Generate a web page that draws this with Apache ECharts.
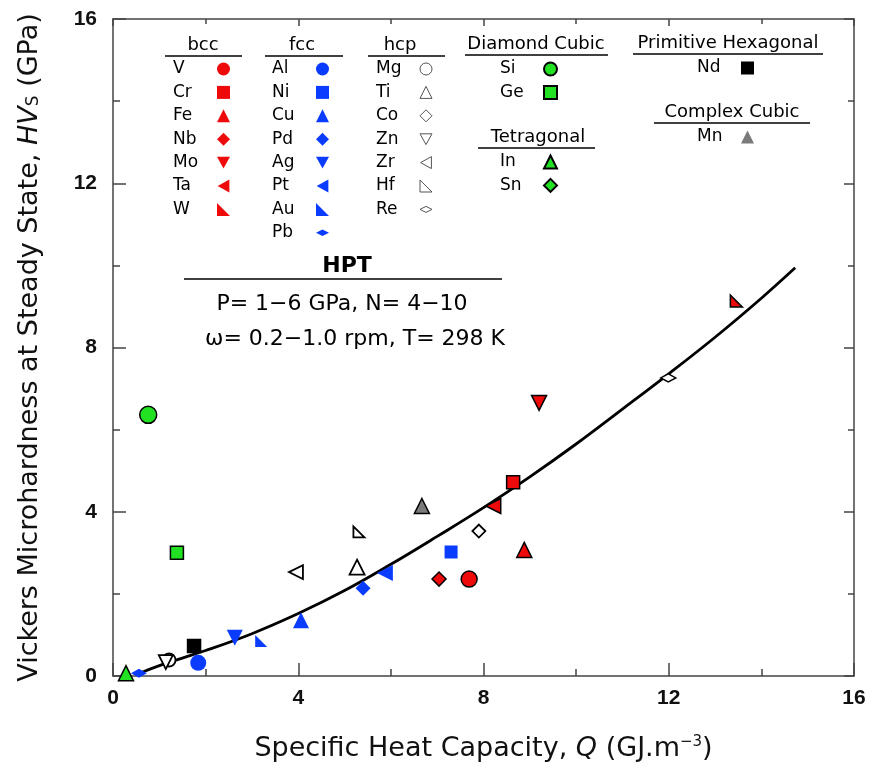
<!DOCTYPE html>
<html>
<head>
<meta charset="utf-8">
<script src="https://cdn.jsdelivr.net/npm/echarts@6/dist/echarts.min.js"></script>
<style>
html,body{margin:0;padding:0;background:#fff;}
#chart{width:874px;height:772px;}
</style>
</head>
<body>
<div id="chart"></div>
<script>
// ---- Data ----
const elementNames = ['V','Cr','Fe','Nb','Mo','Ta','W',
  'Al','Ni','Cu','Pd','Ag','Pt','Au','Pb',
  'Mg','Ti','Co','Zn','Zr','Hf','Re',
  'Si','Ge','In','Sn','Nd','Mn'];
const qValues = [7.69, 8.64, 8.88, 7.04, 9.20, 8.21, 13.46,
  1.84, 7.30, 4.06, 5.40, 2.63, 5.87, 3.20, 0.56,
  1.21, 5.27, 7.90, 1.14, 3.95, 5.31, 11.99,
  0.76, 1.38, 0.28, null, 1.75, 6.67];
const hvValues = [2.36, 4.72, 3.07, 2.36, 6.65, 4.14, 9.13,
  0.32, 3.02, 1.36, 2.14, 0.93, 2.51, 0.85, 0.07,
  0.39, 2.65, 3.53, 0.34, 2.53, 3.51, 7.26,
  6.36, 3.00, 0.07, null, 0.73, 4.14];

// fitted curve
const curveQ = [0.6, 1.2, 2.0, 3.0, 4.0, 5.0, 6.0, 7.0, 8.0, 9.0, 10.0, 11.0, 12.0, 13.0, 14.0, 14.73];
const curveHV = [0.08, 0.33, 0.62, 1.03, 1.52, 2.08, 2.72, 3.4, 4.1, 4.85, 5.65, 6.5, 7.36, 8.25, 9.2, 9.94];

const tickValues = [0, 4, 8, 12, 16];

// legend groups
const bccGroup = ['V','Cr','Fe','Nb','Mo','Ta','W'];
const fccGroup = ['Al','Ni','Cu','Pd','Ag','Pt','Au','Pb'];
const hcpGroup = ['Mg','Ti','Co','Zn','Zr','Hf','Re'];
const diamondGroup = ['Si','Ge'];
const tetragonalGroup = ['In','Sn'];
const primHexGroup = ['Nd'];
const complexCubicGroup = ['Mn'];

// ---- Styles ----
const RED = '#ee0a0a', BLUE = '#0a3cff', GREEN = '#22e022', GRAY = '#7a7a7a';
const RTRI = 'path://M0,0L0,10L10,10Z';
const DTRI = 'path://M0,0L10,0L5,9Z';
const LTRI = 'path://M0,5L9,0L9,10Z';
const FLATD = 'path://M0,4L8,0L16,4L8,8Z';
function st(symbol, size, color, border, bw) {
  return {symbol, size, color, border: border || '#000', bw: bw === undefined ? 1.5 : bw};
}
const styles = {
  V: st('circle', 16, RED), Cr: st('rect', 13, RED), Fe: st('triangle', 15, RED),
  Nb: st('diamond', 14, RED), Mo: st(DTRI, 15, RED), Ta: st(LTRI, 15, RED),
  W: st(RTRI, 12, RED),
  Al: st('circle', 16, BLUE, BLUE, 0), Ni: st('rect', 13, BLUE, BLUE, 0),
  Cu: st('triangle', 16, BLUE, BLUE, 0), Pd: st('diamond', 15, BLUE, BLUE, 0),
  Ag: st(DTRI, 16, BLUE, BLUE, 0), Pt: st(LTRI, 16, BLUE, BLUE, 0),
  Au: st(RTRI, 12, BLUE, BLUE, 0), Pb: st(FLATD, [16, 9], BLUE, BLUE, 0),
  Mg: st('circle', 13, '#fff', '#000', 1.8), Ti: st('triangle', 15, '#fff', '#000', 1.8),
  Co: st('diamond', 13, '#fff', '#000', 1.8), Zn: st(DTRI, 14, '#fff', '#000', 1.8),
  Zr: st(LTRI, 14, '#fff', '#000', 1.8), Hf: st(RTRI, 11, '#fff', '#000', 1.8),
  Re: st(FLATD, [15, 8], '#fff', '#000', 1.6),
  Si: st('circle', 17, GREEN), Ge: st('rect', 13, GREEN), In: st('triangle', 15, GREEN),
  Sn: st('diamond', 13, GREEN), Nd: st('rect', 13, '#000'), Mn: st('triangle', 15, GRAY)
};

const FONT = 'Liberation Sans, Arial, sans-serif';
const WIDEFONT = 'DejaVu Sans, Liberation Sans, sans-serif';

const series = elementNames.map((n, i) => {
  const s = styles[n];
  return {
    name: n, type: 'scatter', z: 3,
    symbol: s.symbol, symbolSize: s.size,
    itemStyle: {color: s.color, borderColor: s.border, borderWidth: s.bw, opacity: 1},
    emphasis: {disabled: true},
    data: qValues[i] == null ? [] : [[qValues[i], hvValues[i]]]
  };
});
series.unshift({
  name: 'fit', type: 'line', smooth: 0.4, showSymbol: false, z: 2,
  lineStyle: {color: '#000', width: 2.8}, silent: true,
  data: curveQ.map((q, i) => [q, curveHV[i]])
});

function legendFor(group, left, top, extra) {
  return Object.assign({
    data: group.map(n => ({name: n, icon: styles[n].symbol})),
    orient: 'vertical', left: left, top: top, align: 'right',
    itemWidth: 13, itemHeight: 13, itemGap: 3.4, selectedMode: false,
    padding: 0,
    formatter: '{a|{name}}',
    textStyle: {fontFamily: WIDEFONT, fontSize: 17, color: '#000', lineHeight: 20,
      rich: {a: {fontFamily: WIDEFONT, fontSize: 17, color: '#000', width: 39, align: 'left', lineHeight: 20}}}
  }, extra || {});
}

const legends = [
  legendFor(bccGroup, 173, 59, {itemStyle: {borderWidth: 0}}),
  legendFor(fccGroup, 272, 59, {itemStyle: {borderWidth: 0}}),
  legendFor(hcpGroup, 376, 59, {itemWidth: 12, itemHeight: 12, itemStyle: {borderWidth: 1, borderColor: '#555'}}),
  legendFor(diamondGroup, 500, 59, {}),
  legendFor(tetragonalGroup, 500, 152, {}),
  legendFor(primHexGroup, 697, 58, {itemStyle: {borderWidth: 0}}),
  legendFor(complexCubicGroup, 697, 127, {itemStyle: {borderWidth: 0}})
];

function title(text, cx, cy, x1, x2, ly) {
  return [
    {type: 'text', x: cx, y: cy, style: {text: text, fill: '#000', font: '18px ' + WIDEFONT, textAlign: 'center', textVerticalAlign: 'middle'}},
    {type: 'line', shape: {x1: x1, y1: ly, x2: x2, y2: ly}, style: {stroke: '#000', lineWidth: 1.5}}
  ];
}
const graphics = [].concat(
  title('bcc', 203, 45, 165, 242, 56),
  title('fcc', 302, 45, 265, 343, 56),
  title('hcp', 400, 45, 368, 445, 56),
  title('Diamond Cubic', 536, 44, 465, 608, 55),
  title('Tetragonal', 538, 137, 478, 595, 148),
  title('Primitive Hexagonal', 728, 43, 633, 823, 54),
  title('Complex Cubic', 732, 112, 654, 810, 123),
  [
    {type: 'text', x: 347, y: 266, style: {text: 'HPT', fill: '#000', font: 'bold 22px ' + WIDEFONT, textAlign: 'center', textVerticalAlign: 'middle'}},
    {type: 'line', shape: {x1: 184, y1: 279, x2: 502, y2: 279}, style: {stroke: '#000', lineWidth: 1.5}},
    {type: 'text', x: 342, y: 304, style: {text: 'P= 1\u22126 GPa, N= 4\u221210', fill: '#000', font: '22px ' + WIDEFONT, textAlign: 'center', textVerticalAlign: 'middle'}},
    {type: 'text', x: 355, y: 339, style: {text: '\u03c9= 0.2\u22121.0 rpm, T= 298 K', fill: '#000', font: '22px ' + WIDEFONT, textAlign: 'center', textVerticalAlign: 'middle'}}
  ]
);

const axisLineStyle = {color: '#444', width: 1.5};
const baseX = {
  type: 'value', min: tickValues[0], max: tickValues[tickValues.length - 1], interval: tickValues[1] - tickValues[0],
  splitLine: {show: false},
  axisLine: {show: true, onZero: false, lineStyle: axisLineStyle},
  axisTick: {show: true, inside: true, length: 13, lineStyle: axisLineStyle},
  minorTick: {show: true, splitNumber: 2, length: 7, lineStyle: axisLineStyle},
  minorSplitLine: {show: false}
};

const option = {
  animation: false,
  backgroundColor: '#fff',
  grid: {left: 113, top: 19, right: 20, bottom: 96, containLabel: false},
  legend: legends,
  graphic: graphics,
  xAxis: [
    Object.assign({}, baseX, {
      position: 'bottom',
      axisLabel: {fontFamily: FONT, fontSize: 21, fontWeight: 'bold', color: '#111', margin: 12},
      name: 'Specific Heat Capacity, {i|Q} (GJ.m{sup|\u22123})',
      nameLocation: 'middle', nameGap: 59,
      nameTextStyle: {fontFamily: WIDEFONT, fontSize: 27, color: '#111',
        rich: {i: {fontFamily: WIDEFONT, fontSize: 27, fontStyle: 'italic', color: '#111'},
               sup: {fontFamily: WIDEFONT, fontSize: 15, color: '#111', padding: [0, 0, 13, 0]}}}
    }),
    Object.assign({}, baseX, {position: 'top', axisLabel: {show: false},
      axisTick: {show: true, inside: true, length: 7, lineStyle: axisLineStyle},
      minorTick: {show: true, splitNumber: 2, length: 5, lineStyle: axisLineStyle}})
  ],
  yAxis: [
    Object.assign({}, baseX, {
      position: 'left',
      axisLabel: {fontFamily: FONT, fontSize: 21, fontWeight: 'bold', color: '#111', margin: 16},
      name: 'Vickers Microhardness at Steady State, {i|HV}{sub|S} (GPa)',
      nameLocation: 'middle', nameGap: 70,
      nameTextStyle: {fontFamily: WIDEFONT, fontSize: 27, color: '#111',
        rich: {i: {fontFamily: WIDEFONT, fontSize: 27, fontStyle: 'italic', color: '#111'},
               sub: {fontFamily: WIDEFONT, fontSize: 17, color: '#111', padding: [9, 0, 0, 0]}}}
    }),
    Object.assign({}, baseX, {position: 'right', axisLabel: {show: false},
      axisTick: {show: true, inside: true, length: 10, lineStyle: axisLineStyle},
      minorTick: {show: true, splitNumber: 2, length: 6, lineStyle: axisLineStyle}})
  ],
  series: series
};

const chart = echarts.init(document.getElementById('chart'), null, {renderer: 'canvas'});
chart.setOption(option);
</script>
</body>
</html>
